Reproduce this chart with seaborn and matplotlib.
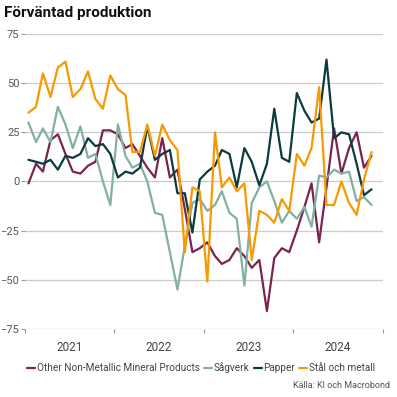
import pandas as pd
import matplotlib.pyplot as plt
import matplotlib.dates as mdates
from matplotlib.ticker import NullFormatter
import seaborn as sns

sns.set_theme(style='white')
plt.rcParams['font.family'] = ['Roboto', 'DejaVu Sans']

# Data, månadsvärden jan 2021 - nov 2024
manader = pd.date_range('2021-01-01', periods=47, freq='MS') + pd.Timedelta(days=14)

mineral = [-1, 9, 5, 21, 24, 14, 5, 4, 8, 10, 26, 26, 24, 17, 19, 13,
           7, 2, 22, 2, 6, -14, -36, -34, -31, -38, -42, -40, -34, -38,
           -44, -40, -66, -39, -34, -36, -25, -13, -1, -31, -3, 27, 4,
           17, 25, 7, 13]
sagverk = [30, 20, 27, 20, 38, 29, 17, 28, 12, 14, 0, -12, 29, 13, 7, 9,
           0, -16, -17, -36, -55, -33, -11, -9, -15, -12, -5, -16, -19,
           -53, -11, -3, 0, -10, -21, -15, -19, -13, -23, 3, 2, 6, 4, 5,
           -10, -8, -12]
papper = [11, 10, 9, 11, 6, 13, 12, 14, 22, 18, 19, 14, 2, 5, 4, 7, 28,
          11, 14, 16, -6, -6, -26, 1, 5, 8, 16, 14, -3, 17, 10, -2, 9, 37,
          12, 10, 45, 36, 30, 32, 62, 22, 25, 24, 9, -7, -4]
stal = [35, 38, 55, 43, 58, 61, 43, 47, 56, 42, 37, 54, 47, 44, 15, 15,
        29, 13, 29, 21, 16, -36, -3, -5, -51, 25, -3, 2, -5, -1, -40,
        -15, -17, -21, -9, -15, 14, 8, 17, 48, -12, -12, 0, -11, -17, 1,
        15]

serier = ['Other Non-Metallic Mineral Products', 'Sågverk', 'Papper', 'Stål och metall']
farger = ['#7b2350', '#82b0a2', '#0b3b3d', '#f59a00']

df = pd.DataFrame({'datum': manader, serier[0]: mineral, serier[1]: sagverk,
                   serier[2]: papper, serier[3]: stal})
df = df.melt(id_vars='datum', var_name='serie', value_name='varde')

fig = plt.figure(figsize=(3.97, 3.97), dpi=100)
ax = fig.add_axes([0.063, 0.172, 0.902, 0.742])

sns.lineplot(data=df, x='datum', y='varde', hue='serie', hue_order=serier,
             palette=farger, linewidth=1.6, ax=ax)

ax.set_ylim(-75, 75)
ax.set_yticks([-75, -50, -25, 0, 25, 50, 75])
ax.set_xlim(pd.Timestamp('2021-01-01'), pd.Timestamp('2025-01-01'))
ax.yaxis.grid(True, color='#cccccc', linewidth=0.9)
ax.xaxis.grid(False)
for s in ax.spines.values():
    s.set_visible(False)
ax.set_xlabel('')
ax.set_ylabel('')

ax.xaxis.set_major_locator(mdates.YearLocator())
ax.xaxis.set_major_formatter(NullFormatter())
ax.xaxis.set_minor_locator(mdates.MonthLocator(bymonth=7))
ax.xaxis.set_minor_formatter(mdates.DateFormatter('%Y'))
ax.tick_params(axis='x', which='major', length=3, width=0.8, color='#999999', bottom=True)
ax.tick_params(axis='x', which='minor', length=0, pad=9, labelsize=8.5, labelcolor='#444444')
ax.tick_params(axis='y', length=3, width=0.8, color='#999999', left=True, pad=1,
               labelsize=8, labelcolor='#555555')

handles, labels = ax.get_legend_handles_labels()
ax.get_legend().remove()
fig.legend(handles, labels, loc='center left', bbox_to_anchor=(0.068, 1 - 368 / 397),
           ncol=4, frameon=False, handlelength=0.8, handletextpad=0.2,
           columnspacing=0.4, fontsize=7.2, labelcolor='#444444', borderaxespad=0,
           borderpad=0)

fig.text(4 / 397, 1 - 13 / 397, 'Förväntad produktion', fontweight='bold',
         fontsize=11, va='center', ha='left', color='#111111')
fig.text(390 / 397, 1 - 386 / 397, 'Källa: KI och Macrobond', ha='right',
         va='center', fontsize=6.5, color='#555555')

fig.savefig('out.png', dpi=100)
